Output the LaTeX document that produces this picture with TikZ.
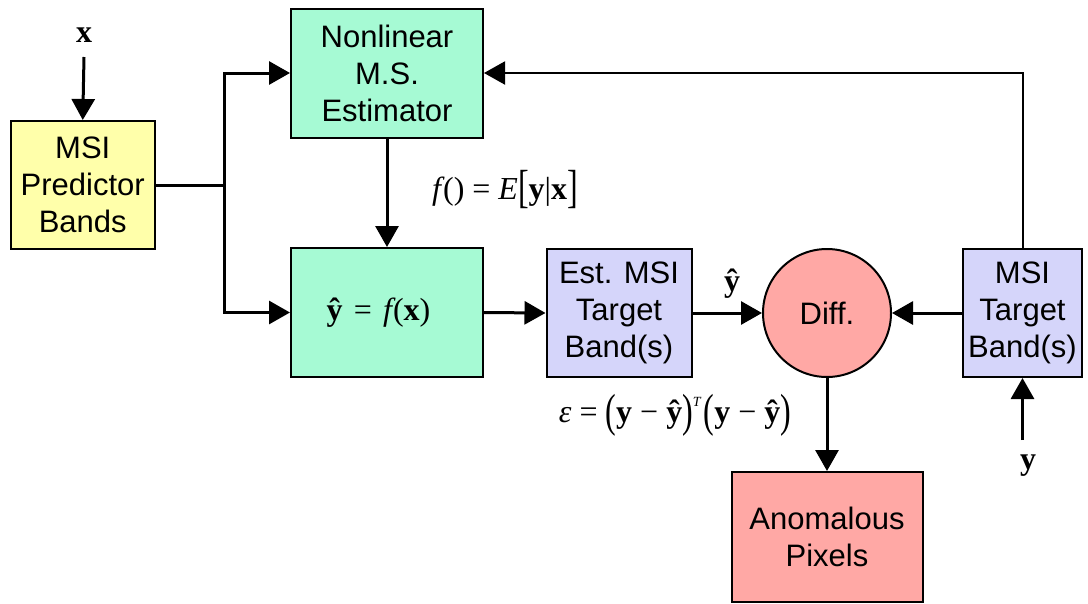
\documentclass[tikz,border=0pt]{standalone}
\usepackage{fontspec}
\usepackage{graphicx}
\setmainfont{Liberation Sans}
\newfontfamily\tnr{Liberation Serif}
\usetikzlibrary{arrows.meta}
\definecolor{cyellow}{RGB}{255,255,170}
\definecolor{cgreen}{RGB}{166,250,212}
\definecolor{clav}{RGB}{213,213,250}
\definecolor{cpink}{RGB}{255,168,165}
\newcommand{\bigdelim}[1]{\raisebox{-0.22ex}{\scalebox{1}[1.45]{#1}}}
\newcommand{\bvec}[1]{{\bfseries #1}}
\begin{document}
\begin{tikzpicture}[x=1pt,y=-1pt,
  box/.style={draw=black,line width=2pt,inner sep=0pt,align=center,
    font=\fontsize{31}{37}\selectfont},
  conn/.style={line width=3pt,-{Triangle[length=21pt,width=23pt]}},
  plain/.style={line width=3pt},
  mlabel/.style={inner sep=0pt,font=\tnr\fontsize{32}{36}\selectfont}]
\useasboundingbox (0,0) rectangle (1088,603);
\node[box,fill=cyellow,minimum width=144.5pt,minimum height=128pt] (pred) at (82.75,185) {MSI\\Predictor\\Bands};
\node[box,fill=cgreen,minimum width=192pt,minimum height=129pt] (est) at (387,73) {Nonlinear\\M.S.\\Estimator};
\node[box,fill=cgreen,minimum width=192pt,minimum height=129pt] (fx) at (387,312.5)
  {\hspace*{-17pt}\tnr\fontsize{32}{36}\selectfont\bvec{ŷ}\hspace{0.35em}=\hspace{0.35em}{\itshape f\kern1pt}(\bvec{x})};
\node[box,fill=clav,minimum width=145pt,minimum height=128pt] (eb) at (619,313) {Est. MSI\\Target\\Band(s)};
\node[draw=black,line width=2pt,circle,fill=cpink,minimum size=128pt,inner sep=0pt,
  font=\fontsize{31}{37}\selectfont] (diff) at (827,313) {Diff.};
\node[box,fill=clav,minimum width=119pt,minimum height=128pt] (tgt) at (1022.5,313) {MSI\\Target\\Band(s)};
\node[box,fill=cpink,minimum width=191pt,minimum height=130pt] (anom) at (827,537) {Anomalous\\Pixels};

\node[mlabel] (xl) at (84,35) {\bvec{x}};
\node[mlabel] (yl) at (1028,466) {\bvec{y}};
\node[mlabel] (yhl) at (732,284) {\bvec{ŷ}};
\node[mlabel] (fl) at (505,190) {{\itshape f\kern2pt}() = {\itshape E}\bigdelim{[}\bvec{y}|\bvec{x}\bigdelim{]}};
\node[mlabel] (el) at (675,415) {{\itshape ε} = \bigdelim{(}\bvec{y} − \bvec{ŷ}\bigdelim{)}\raisebox{1.1ex}{\fontsize{14}{14}\selectfont\itshape T}\kern3pt\bigdelim{(}\bvec{y} − \bvec{ŷ}\bigdelim{)}};

\coordinate (xin) at (84,57);
\coordinate (yin) at (1022.5,440);
\coordinate (j) at (224,185);

\draw[conn] (xin) -- (pred.north);
\draw[plain] (pred.east) -- (j);
\draw[conn] (j) |- (est.west);
\draw[conn] (j) |- (fx.west);
\draw[conn] (est.south) -- (fx.north);
\draw[conn] (fx.east) -- (eb.west);
\draw[conn] (eb.east) -- (diff.west);
\draw[conn] (tgt.west) -- (diff.east);
\draw[conn,line width=2pt] (tgt.north) |- (est.east);
\draw[conn] (yin) -- (tgt.south);
\draw[conn] (diff.south) -- (anom.north);
\end{tikzpicture}
\end{document}
